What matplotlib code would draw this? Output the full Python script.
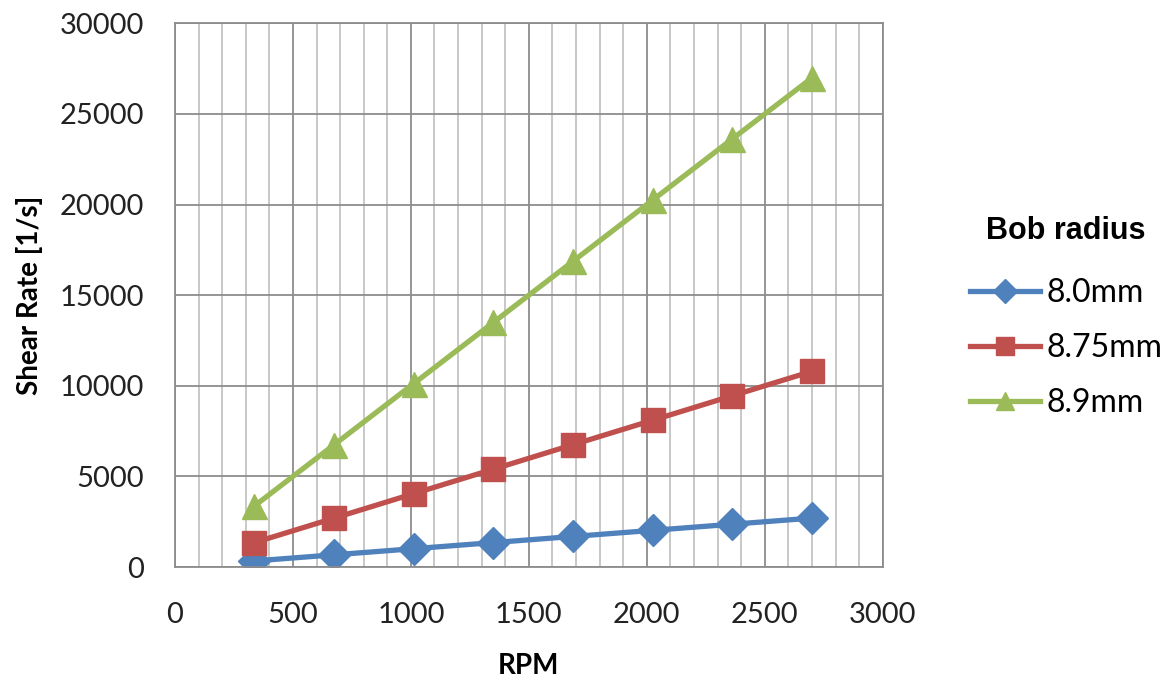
import matplotlib
matplotlib.use("Agg")
from matplotlib import pyplot as plt
from matplotlib.ticker import MultipleLocator

rpm = [337, 675, 1012, 1350, 1687, 2025, 2362, 2700]
r80 = [337, 675, 1012, 1350, 1687, 2025, 2362, 2700]
r875 = [1350, 2700, 4050, 5400, 6750, 8100, 9450, 10800]
r89 = [3370, 6750, 10120, 13500, 16870, 20250, 23620, 26990]
labels = ['8.0mm', '8.75mm', '8.9mm']

plt.rcParams['font.family'] = ['Lato', 'DejaVu Sans']

fig = plt.figure(figsize=(11.74, 6.84), dpi=100)
ax = fig.add_axes([0.149, 0.171, 0.603, 0.795])

ax.plot(rpm, r80, '-D', c='#4F81BD', lw=3.8, ms=16, label=labels[0])
ax.plot(rpm, r875, '-s', c='#C0504D', lw=3.8, ms=17, label=labels[1])
ax.plot(rpm, r89, '-^', c='#9BBB59', lw=3.8, ms=18, label=labels[2])

ax.set_xlim(0, 3000)
ax.set_ylim(0, 30000)
ax.xaxis.set_major_locator(MultipleLocator(500))
ax.xaxis.set_minor_locator(MultipleLocator(100))
ax.yaxis.set_major_locator(MultipleLocator(5000))
ax.grid(which='major', color='#8c8c8c', linewidth=1.3)
ax.grid(which='minor', axis='x', color='#c4c4c4', linewidth=1.3)
ax.set_axisbelow(True)
for s in ax.spines.values():
    s.set_color('#8c8c8c')
    s.set_linewidth(1.3)
ax.tick_params(which='both', length=0, labelsize=21, colors='#222222')
ax.tick_params(axis='y', pad=22)
ax.tick_params(axis='x', pad=25)

ax.set_xlabel('RPM', fontsize=20, fontweight='bold', labelpad=18)
ax.set_ylabel('Shear Rate [1/s]', fontsize=20, fontweight='bold', labelpad=12)

leg = fig.legend(loc='upper left', bbox_to_anchor=(0.826, 0.684), frameon=False,
                 title='Bob radius', fontsize=23, handlelength=2.2,
                 labelspacing=0.78, handletextpad=0.2, markerscale=0.75,
                 borderpad=0, borderaxespad=0)
leg.get_title().set_fontweight('bold')
leg.get_title().set_fontsize(22)
leg.get_title().set_family(['Liberation Sans'])
leg._legend_box.align = 'center'
leg._legend_box.sep = 23

fig.savefig('out.png', dpi=100)
